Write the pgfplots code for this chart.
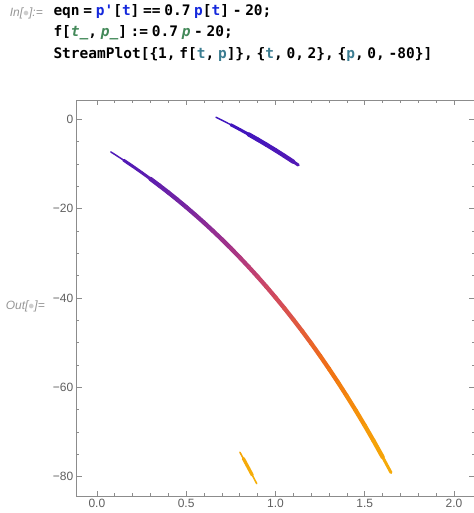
\documentclass[border=0pt]{standalone}
\usepackage{fontspec}
\usepackage{xcolor}
\usepackage{pgfplots}
\usepackage{pgfplotstable}
\pgfplotsset{compat=1.18}
\setmonofont{DejaVu Sans Mono}
\newfontfamily\lsans{Liberation Sans}
\definecolor{cblue}{RGB}{20,40,220}
\definecolor{cgreen}{RGB}{67,137,89}
\definecolor{cteal}{RGB}{60,125,145}
\definecolor{promptgray}{RGB}{150,150,150}
\definecolor{dotgray}{RGB}{205,205,205}
\definecolor{framegray}{RGB}{140,140,140}
\definecolor{labelgray}{RGB}{95,95,95}
\newcommand{\codefont}{\ttfamily\bfseries\fontsize{14.5bp}{17bp}\selectfont\spaceskip=3.7bp plus 0pt minus 0pt\relax}

\pgfplotstableread{
t p
0.078 -7.32
0.10 -7.87
0.15 -9.17
0.20 -10.51
0.25 -11.91
0.30 -13.35
0.35 -14.84
0.40 -16.39
0.45 -17.99
0.50 -19.65
0.55 -21.37
0.60 -23.14
0.65 -24.99
0.70 -26.89
0.75 -28.87
0.80 -30.92
0.85 -33.04
0.90 -35.23
0.95 -37.50
1.00 -39.86
1.05 -42.29
1.10 -44.82
1.15 -47.43
1.20 -50.14
1.25 -52.94
1.30 -55.85
1.35 -58.85
1.40 -61.97
1.45 -65.19
1.50 -68.53
1.55 -71.99
1.60 -75.57
1.647 -79.05
}\longline

\pgfplotstableread{
t p
0.667 0.45
0.70 -0.21
0.75 -1.23
0.80 -2.29
0.85 -3.39
0.90 -4.53
0.95 -5.71
1.00 -6.93
1.05 -8.20
1.10 -9.51
1.128 -10.26
}\topline

\pgfplotstableread{
t p
0.801 -74.52
0.82 -75.89
0.85 -78.11
0.87 -79.61
0.895 -81.52
}\smallline

\begin{document}
\begin{tikzpicture}
\useasboundingbox (0,0) rectangle (474bp,-513bp);
% input prompt and code
\node[anchor=base east, inner sep=0pt, text=promptgray] at (43bp,-16bp)
  {\lsans\itshape\fontsize{12bp}{14bp}\selectfont In[\textcolor{dotgray}{$\bullet$}]:=};
\node[anchor=base west, inner sep=0pt] at (53.3bp,-15bp)
  {\codefont eqn = \textcolor{cblue}{p'}[\textcolor{cblue}{t}] == 0.7 \textcolor{cblue}{p}[\textcolor{cblue}{t}] - 20;};
\node[anchor=base west, inner sep=0pt] at (53.3bp,-36.5bp)
  {\codefont f[\textcolor{cgreen}{\itshape t\_}, \textcolor{cgreen}{\itshape p\_}] := 0.7 \textcolor{cgreen}{\itshape p} - 20;};
\node[anchor=base west, inner sep=0pt] at (53.3bp,-58bp)
  {\codefont StreamPlot[\{1, f[\textcolor{cteal}{t}, \textcolor{cteal}{p}]\}, \{\textcolor{cteal}{t}, 0, 2\}, \{\textcolor{cteal}{p}, 0, -80\}]};
\node[anchor=base east, inner sep=0pt, text=promptgray] at (45bp,-309bp)
  {\lsans\itshape\fontsize{12bp}{14bp}\selectfont Out[\textcolor{dotgray}{$\bullet$}]=};

\begin{axis}[
  at={(76.7bp,-496bp)}, anchor=south west,
  scale only axis, width=397.5bp, height=396bp,
  xmin=-0.113, xmax=2.113, ymin=-84.3, ymax=4.3,
  axis line style={draw=framegray, line width=0.6bp},
  xtick={0,0.5,1,1.5,2}, xticklabels={0.0,0.5,1.0,1.5,2.0},
  ytick={-80,-60,-40,-20,0}, yticklabels={−80,−60,−40,−20,0},
  minor x tick num=4, minor y tick num=3,
  major tick length=5bp, minor tick length=2.7bp,
  every tick/.style={draw=framegray, line width=0.6bp},
  tick align=inside,
  ticklabel style={font=\lsans\fontsize{12bp}{14bp}\selectfont, text=labelgray},
  colormap={stream}{
    rgb255(0pt)=(245,182,12)
    rgb255(9pt)=(245,166,8)
    rgb255(19pt)=(245,142,12)
    rgb255(28pt)=(240,112,20)
    rgb255(34pt)=(232,98,45)
    rgb255(42pt)=(214,78,85)
    rgb255(49pt)=(195,65,112)
    rgb255(56pt)=(158,50,140)
    rgb255(64pt)=(120,38,160)
    rgb255(72pt)=(88,28,178)
    rgb255(79pt)=(70,22,188)
    rgb255(88pt)=(55,18,192)
  },
  point meta min=-84, point meta max=4,
]
\addplot[mesh, point meta=y, line width=1.5bp, line cap=round] table[x=t,y=p] {\longline};
\addplot[mesh, point meta=y, line width=3.0bp, line cap=round, restrict x to domain=0.14:1.65] table[x=t,y=p] {\longline};
\addplot[mesh, point meta=y, line width=4.3bp, line cap=round, restrict x to domain=0.3:1.61] table[x=t,y=p] {\longline};

\addplot[mesh, point meta=y, line width=1.4bp, line cap=round] table[x=t,y=p] {\topline};
\addplot[mesh, point meta=y, line width=3.0bp, line cap=round, restrict x to domain=0.75:1.13] table[x=t,y=p] {\topline};
\addplot[mesh, point meta=y, line width=4.3bp, line cap=round, restrict x to domain=0.85:1.11] table[x=t,y=p] {\topline};

\addplot[mesh, point meta=y, line width=1.6bp, line cap=round] table[x=t,y=p] {\smallline};
\addplot[mesh, point meta=y, line width=3.2bp, line cap=round, restrict x to domain=0.82:0.87] table[x=t,y=p] {\smallline};
\end{axis}
\end{tikzpicture}
\end{document}
